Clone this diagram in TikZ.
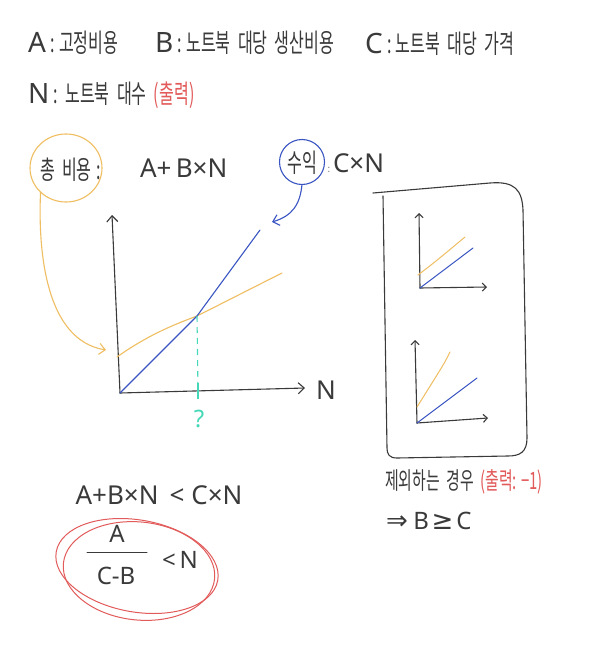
\documentclass[tikz,border=0pt]{standalone}
\usepackage{fontspec}
\setmainfont[FakeStretch=0.62,WordSpace=2.0]{Noto Sans CJK KR}
\newfontfamily\latf{Noto Sans}
\newfontfamily\symf{DejaVu Sans}
\usetikzlibrary{arrows.meta,shapes.geometric}
\definecolor{ink}{HTML}{3A3A3A}
\definecolor{org}{HTML}{F0BE62}
\definecolor{blu}{HTML}{3A55C2}
\definecolor{rd}{HTML}{E25A5A}
\definecolor{cy}{HTML}{45D8B8}
\newcommand\HeadLat[1]{{\latf\fontsize{28}{28}\selectfont #1}}
\newcommand\BigLat[1]{{\latf\fontsize{26}{26}\selectfont #1}}
\newcommand\MidLat[1]{{\latf\fontsize{24}{24}\selectfont #1}}
\newcommand\SymB[1]{{\symf\fontsize{26}{26}\selectfont #1}}
\begin{document}
\begin{tikzpicture}[x=1pt,y=-1pt,
  every node/.style={inner sep=0pt,outer sep=0pt,text=ink},
  ko/.style={font=\fontsize{26}{28}\selectfont,anchor=west},
  kos/.style={font=\fontsize{24}{26}\selectfont,anchor=west},
  pen/.style={draw=ink,line width=1.1pt,line cap=round,line join=round},
  opin/.style={draw=org,line width=1.1pt,line cap=round,line join=round},
  bpin/.style={draw=blu,line width=1.1pt,line cap=round,line join=round},
  rpin/.style={draw=rd,line width=1pt,line cap=round,line join=round},
  arr/.style={-{Straight Barb[length=6pt,width=11pt]}},
  sarr/.style={-{Straight Barb[length=4pt,width=8pt]}}]
\useasboundingbox[fill=white] (0,0) rectangle (609,663);

% header
\node[ko] (kA) at (28,43) {\HeadLat{A}\,:\,고정비용};
\node[ko] (kB) at (155,43) {\HeadLat{B}\,:\,노트북 대당 생산비용};
\node[ko] (kC) at (365,44) {\HeadLat{C}\,:\,노트북 대당 가격};
\node[ko] (kN) at (28,95) {\HeadLat{N}\,:\ 노트북 대수 \textcolor{rd}{(출력)}};

% total cost / revenue
\node[ko] (tot) at (40,170) {총 비용\,:};
\node[ellipse,draw=org,line width=1.1pt,minimum width=72pt,minimum height=68pt] (oc) at (66,168) {};
\node[anchor=west] (fc) at (140,168) {\BigLat{A+\,B×N}};
\node[ko,anchor=center] (rev) at (302,163) {수익};
\node[circle,draw=blu,line width=1.1pt,minimum size=45pt] (bc) at (302,162) {};
\node[anchor=west] (fr) at (328,163) {:\,\,\BigLat{C×N}};

% main graph
\coordinate (O) at (120,393);
\coordinate (Yt) at (112,215);
\coordinate (Xe) at (305,388);
\coordinate (o1) at (117,357);
\coordinate (P) at (197,316);
\coordinate (o2) at (282,273);
\coordinate (b2) at (260,230);
\coordinate (T) at (198,391);
\draw[pen,arr] (O) -- (Yt);
\draw[pen,arr] (O) -- (Xe);
\node (nN) at (326,390) {\BigLat{N}};
\draw[opin] (o1) .. controls (145,337) and (170,326) .. (P) -- (o2);
\draw[bpin] (O) -- (P) -- (b2);
\draw[draw=cy,line width=1.1pt,dash pattern=on 6pt off 5pt] (P) -- (T);
\draw[draw=cy,line width=1.2pt] (198,383) -- (198,399);
\node[text=cy] (q) at (199,419) {\MidLat{?}};

% connectors from circles
\coordinate (oe) at (106,350);
\coordinate (be) at (272,222);
\draw[opin,arr] (oc.south west) .. controls (38,250) and (45,340) .. (oe);
\draw[bpin,arr] (bc.south) .. controls (300,205) and (292,216) .. (be);

% right frame
\draw[pen] (373,193) -- (490,183) .. controls (515,181) and (522,190) .. (523,210) -- (527,438) .. controls (527,452) and (520,456) .. (508,456) -- (397,458) .. controls (389,458) and (387,454) .. (387,448) -- (383,196);
% mini graph 1
\coordinate (g1o) at (420,288);
\draw[pen,sarr] (g1o) -- (419,213);
\draw[pen,sarr] (g1o) -- (487,287);
\draw[opin,line width=1pt] (418,275) .. controls (435,262) .. (465,237);
\draw[bpin,line width=1pt] (g1o) -- (473,248);
% mini graph 2
\coordinate (g2o) at (417,423);
\draw[pen,sarr] (g2o) -- (415,340);
\draw[pen,sarr] (g2o) -- (488,418);
\draw[opin,line width=1pt] (417,407) -- (437,375) .. controls (445,362) .. (450,352);
\draw[bpin,line width=1pt] (g2o) -- (477,378);

% bottom left
\node (ineq) at (159,495) {\BigLat{A+B×N\, < C×N}};
\node (fa) at (117,534) {\MidLat{A}};
\node (fb) at (116,576) {\MidLat{C-B}};
\draw[pen,line width=1pt] (87,552) -- (147,552);
\node (fn) at (180,560) {\MidLat{<\,N}};
\draw[rpin] (137,566) ellipse [x radius=82, y radius=46, rotate=-10];
\draw[rpin] (139,571) ellipse [x radius=76, y radius=49, rotate=-6];

% bottom right
\node[kos] (ex) at (385,482) {제외하는 경우 \textcolor{rd}{(출력:\,−1)}};
\node[anchor=west] (bc2) at (386,521) {\SymB{⇒}\ \ \MidLat{B} \SymB{≥} \MidLat{C}};
\end{tikzpicture}
\end{document}
